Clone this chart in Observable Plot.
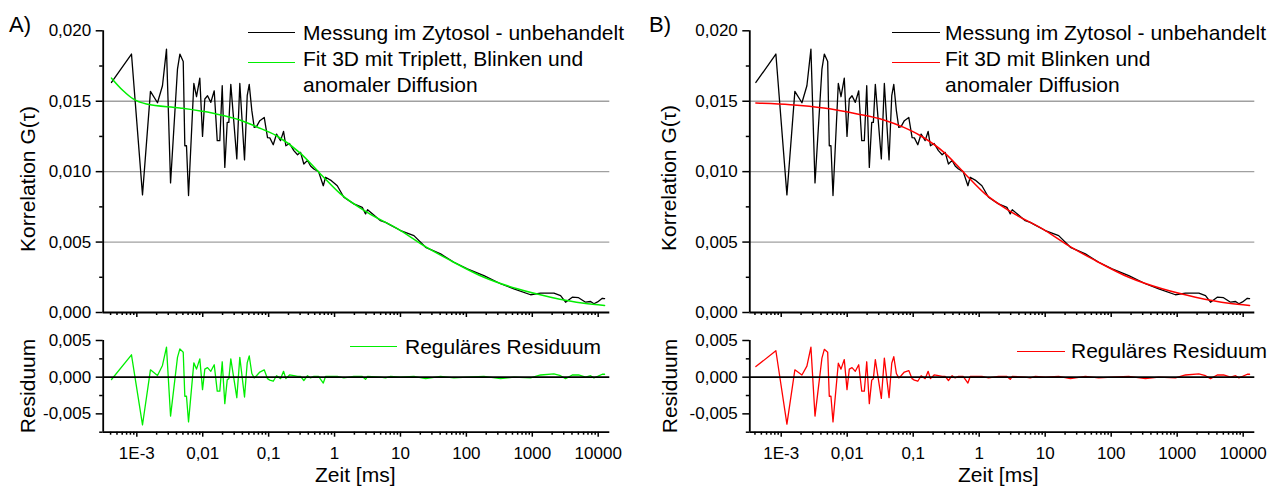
<!DOCTYPE html>
<html><head><meta charset="utf-8">
<script src="https://cdn.jsdelivr.net/npm/d3@7"></script>
<script src="https://cdn.jsdelivr.net/npm/@observablehq/plot@0.6"></script>
<style>
html,body{margin:0;padding:0;background:#fff;}
#root{position:relative;width:1274px;height:489px;overflow:hidden;font-family:"Liberation Sans",Arial,sans-serif;color:#000;}
.abs{position:absolute;white-space:nowrap;}
.t21{font-size:21px;line-height:26px;}
.rot{transform:translate(-50%,-50%) rotate(-90deg);font-size:21px;line-height:21px;}
.sw{position:absolute;height:0;border-top:1.5px solid #000;}
svg{position:absolute;}
</style></head>
<body><div id="root"></div>
<script>
// ---- data ----
const tMeas = [0.000413,0.00083,0.00122,0.00161,0.00206,0.00245,0.00282,0.00325,0.00414,0.0045,0.00506,0.00535,0.00567,0.00609,0.00733,0.00805,0.00903,0.00993,0.01076,0.01183,0.01327,0.01494,0.0166,0.01816,0.01976,0.02163,0.02353,0.0249,0.02667,0.03289,0.03654,0.04305,0.04731,0.05077,0.05559,0.0604,0.06546,0.07345,0.0857,0.0962,0.1042,0.1174,0.1318,0.1517,0.1683,0.1824,0.2075,0.241,0.2746,0.3049,0.342,0.389,0.4323,0.4853,0.5717,0.6745,0.7303,0.869,1.099,1.384,1.963,2.632,2.953,3.17,4.99,5.94,7.08,10.04,16.0,24.1,40.6,64.7,103.3,184.5,330,526,942,1337,2128,2687,3200,4044,5038,6437,7668,8606,9793,11540,12500];
const gMeas = [0.01633,0.01835,0.00835,0.0157,0.01489,0.0161,0.0187,0.0092,0.01728,0.01835,0.01782,0.01184,0.01184,0.0083,0.01626,0.01532,0.01664,0.0125,0.01516,0.01539,0.01492,0.01574,0.0122,0.0122,0.0161,0.0103,0.0135,0.0135,0.0162,0.0109,0.01626,0.01083,0.01539,0.0162,0.01433,0.01314,0.0132,0.01362,0.01385,0.01242,0.0124,0.01191,0.01267,0.0122,0.01286,0.01184,0.0120,0.01149,0.0112,0.01137,0.01054,0.0108,0.0104,0.01019,0.0100,0.0090,0.0096,0.0094,0.0090,0.00818,0.00771,0.00747,0.0070,0.0073,0.00652,0.0064,0.0062,0.00582,0.00546,0.00463,0.00416,0.00357,0.0031,0.00262,0.00204,0.00168,0.00126,0.00137,0.00137,0.0012,0.00073,0.00109,0.00105,0.00073,0.00078,0.00062,0.00075,0.00101,0.00098];
const resA = [-0.00032,0.00305,-0.0065,0.001,0.00023,0.0016,0.0041,-0.0053,0.0027,0.00386,0.0034,-0.0026,-0.0026,-0.0061,0.00195,0.0011,0.0025,-0.0017,0.0011,0.0013,0.0008,0.0017,-0.0019,-0.0019,0.0021,-0.0036,-0.00036,-0.0002,0.0025,-0.0028,0.0027,-0.0027,0.00195,0.0029,0.0005,-0.0001,0.0002,0.0007,0.001,-0.0002,-0.0004,-0.00055,0.0002,-0.0002,0.0008,-0.0002,0.0003,0.0002,0.0001,0.0001,-0.00045,0.0002,-0.0001,0.0001,0.0001,-0.0008,0.0001,0.0001,0.0001,-0.0001,0.0001,0.0001,-0.0003,0.0001,0,-0.0001,0.0001,0,0.0001,-0.0002,0.0001,-0.0001,0,0.0001,-0.0002,0,-0.0001,0.0003,0.00045,0.0002,-0.0002,0.0003,0.0003,0,0.0002,-0.0001,0.0001,0.0004,0.0004];
const resB = [0.00145,0.0036,-0.0064,0.001,0.0003,0.0015,0.0041,-0.0053,0.0026,0.0038,0.0034,-0.0026,-0.0026,-0.0061,0.0019,0.0011,0.0024,-0.0017,0.0011,0.0013,0.0008,0.0017,-0.0019,-0.0019,0.0021,-0.0036,-0.0004,-0.0002,0.0024,-0.0029,0.0026,-0.0028,0.0019,0.0028,0.0005,-0.0001,0.0002,0.0007,0.0009,-0.0002,-0.0004,-0.00055,0.0002,-0.0002,0.0008,-0.0002,0.0003,0.0002,0.0001,0.0001,-0.00045,0.0002,-0.0001,0.0001,0.0001,-0.0008,0.0001,0.0001,0.0001,-0.0001,0.0001,0.0001,-0.0003,0.0001,0,-0.0001,0.0001,0,0.0001,-0.0002,0.0001,-0.0001,0,0.0001,-0.0002,0,-0.0001,0.0003,0.00045,0.0002,-0.0002,0.0003,0.0003,0,0.0002,-0.0001,0.0001,0.0004,0.0004];
const tFitA = [0.000413,0.000622,0.000881,0.0014,0.0045,0.01443,0.03654,0.06546,0.1318,0.3049,0.611,1.23,3.13,10.04,22.6,57.6,184.5,592,1897,6070,12500];
const gFitA = [0.01664,0.01574,0.01516,0.0148,0.01452,0.01414,0.01367,0.01319,0.01255,0.0113,0.00984,0.00842,0.00711,0.00582,0.00475,0.00369,0.0025,0.00168,0.00109,0.00066,0.0005];
const tFitB = [0.000413,0.00138,0.00442,0.0142,0.0359,0.0721,0.129,0.3049,0.611,1.23,3.13,10.04,22.6,57.6,184.5,592,1897,6070,12500];
const gFitB = [0.01487,0.01475,0.01452,0.0141,0.01367,0.01314,0.01255,0.0113,0.00984,0.00842,0.00711,0.00582,0.00475,0.00369,0.0025,0.00168,0.00109,0.00066,0.0005];

const xMajor = [1e-3,1e-2,1e-1,1,10,100,1000,10000];
const xLabels = ["1E-3","0,01","0,1","1","10","100","1000","10000"];
const xMinor = [4e-4,5e-4,6e-4,7e-4,8e-4,9e-4,2e-3,3e-3,4e-3,5e-3,6e-3,7e-3,8e-3,9e-3,0.02,0.03,0.04,0.05,0.06,0.07,0.08,0.09,0.2,0.3,0.4,0.5,0.6,0.7,0.8,0.9,2,3,4,5,6,7,8,9,20,30,40,50,60,70,80,90,200,300,400,500,600,700,800,900,2000,3000,4000,5000,6000,7000,8000,9000];
const yTopMajor = [0,0.005,0.01,0.015,0.02];
const yTopLabels = ["0,000","0,005","0,010","0,015","0,020"];
const yTopMinor = [0.0025,0.0075,0.0125,0.0175];
const yTopGrid = [0.005,0.01,0.015];
const yResMajor = [-0.005,0,0.005];
const yResLabels = ["-0,005","0,000","0,005"];
const yResMinor = [-0.0075,-0.0025,0.0025];

const measured = tMeas.map((t,i)=>({t, g:gMeas[i]}));
const fitA = tFitA.map((t,i)=>({t, g:gFitA[i]}));
const fitB = tFitB.map((t,i)=>({t, g:gFitB[i]}));
const residA = tMeas.map((t,i)=>({t, r:resA[i]}));
const residB = tMeas.map((t,i)=>({t, r:resB[i]}));

const GREEN = "#00ee00", RED = "#ff0000";
const FONT = "'Liberation Sans', Arial, sans-serif";
const root = document.getElementById("root");

function common(xdom, ml, mr, mt, mb, h) {
  return {width:637, height:h, marginLeft:ml, marginRight:mr, marginTop:mt, marginBottom:mb,
    x:{type:"log", domain:xdom},
    style:{fontFamily:FONT, fontSize:"17px", color:"#000", background:"transparent", overflow:"visible"}};
}
function xAxes(showLabels) {
  return [
    Plot.axisX({ticks:xMajor, tickSize:5, tickPadding:10, strokeWidth:1.5, label:null,
      tickFormat: showLabels ? (d => xLabels[xMajor.indexOf(d)]) : (() => "")}),
    Plot.axisX({ticks:xMinor, tickSize:3, strokeWidth:1.5, label:null, tickFormat:() => ""})
  ];
}
function topPlot(xdom, ml, mr, fit, color) {
  return Plot.plot({...common(xdom, ml, mr, 30.3, 18, 330),
    y:{domain:[0,0.02]},
    marks:[
      Plot.ruleY(yTopGrid, {stroke:"#a0a0a0", strokeWidth:1.4}),
      Plot.axisY({ticks:yTopMajor, tickSize:7, tickPadding:5, strokeWidth:1.5, label:null,
        tickFormat:d => yTopLabels[yTopMajor.indexOf(d)]}),
      Plot.axisY({ticks:yTopMinor, tickSize:3.5, strokeWidth:1.5, label:null, tickFormat:() => ""}),
      ...xAxes(false),
      Plot.line(measured, {x:"t", y:"g", stroke:"#000", strokeWidth:1.3}),
      Plot.line(fit, {x:"t", y:"g", stroke:color, strokeWidth:1.5, curve:"monotone-x"}),
      Plot.ruleX([xdom[0]], {stroke:"#000", strokeWidth:1.8}),
      Plot.ruleY([0], {stroke:"#000", strokeWidth:1.8})
    ]});
}
function resPlot(xdom, ml, mr, resid, color) {
  return Plot.plot({...common(xdom, ml, mr, 15, 57.3, 164),
    y:{domain:[-0.0075,0.005]},
    marks:[
      Plot.axisY({ticks:yResMajor, tickSize:7, tickPadding:5, strokeWidth:1.5, label:null,
        tickFormat:d => yResLabels[yResMajor.indexOf(d)]}),
      Plot.axisY({ticks:yResMinor, tickSize:3.5, strokeWidth:1.5, label:null, tickFormat:() => ""}),
      ...xAxes(true),
      Plot.line(resid, {x:"t", y:"r", stroke:color, strokeWidth:1.3}),
      Plot.ruleY([0], {stroke:"#000", strokeWidth:1.8}),
      Plot.ruleX([xdom[0]], {stroke:"#000", strokeWidth:1.8}),
      Plot.ruleY([-0.0075], {stroke:"#000", strokeWidth:1.8})
    ]});
}
function place(svg, left, top) { svg.style.left = left+"px"; svg.style.top = top+"px"; root.appendChild(svg); }

const domA = [Math.pow(10,-3.51), Math.pow(10,4.176)];
const domB = [Math.pow(10,-3.476), Math.pow(10,4.176)];
place(topPlot(domA, 102.7, 27.7, fitA, GREEN), 0, 0);
place(resPlot(domA, 102.7, 27.7, residA, GREEN), 0, 325);
place(topPlot(domB, 112.3, 19.7, fitB, RED), 637, 0);
place(resPlot(domB, 112.3, 19.7, residB, RED), 637, 325);

function div(cls, html, css) { const d = document.createElement("div"); d.className = cls; d.innerHTML = html; Object.assign(d.style, css); root.appendChild(d); return d; }
function swatch(x1, x2, y, color) { const d = document.createElement("div"); d.className = "sw"; Object.assign(d.style, {left:x1+"px", width:(x2-x1)+"px", top:y+"px", borderTopColor:color}); root.appendChild(d); }

// panel labels
div("abs t21", "A)", {left:"9px", top:"12px", fontSize:"22px"});
div("abs t21", "B)", {left:"649px", top:"12px", fontSize:"22px"});
// axis titles
div("abs rot", "Korrelation G(&tau;)", {left:"27px", top:"179px"});
div("abs rot", "Korrelation G(&tau;)", {left:"668px", top:"178px"});
div("abs rot", "Residuum", {left:"27px", top:"386px"});
div("abs rot", "Residuum", {left:"669px", top:"386px"});
div("abs t21", "Zeit [ms]", {left:"315px", top:"462px"});
div("abs t21", "Zeit [ms]", {left:"958px", top:"462px"});
// legends A
div("abs t21", "Messung im Zytosol - unbehandelt<br>Fit 3D mit Triplett, Blinken und<br>anomaler Diffusion", {left:"303px", top:"20px"});
swatch(248, 295, 32, "#000"); swatch(248, 295, 62, GREEN);
div("abs t21", "Reguläres Residuum", {left:"405px", top:"334px"});
swatch(350, 397, 346, GREEN);
// legends B
div("abs t21", "Messung im Zytosol - unbehandelt<br>Fit 3D mit Blinken und<br>anomaler Diffusion", {left:"945px", top:"20px"});
swatch(892, 940, 32, "#000"); swatch(892, 940, 62, RED);
div("abs t21", "Reguläres Residuum", {left:"1071px", top:"338px"});
swatch(1017, 1065, 351, RED);
</script></body></html>
